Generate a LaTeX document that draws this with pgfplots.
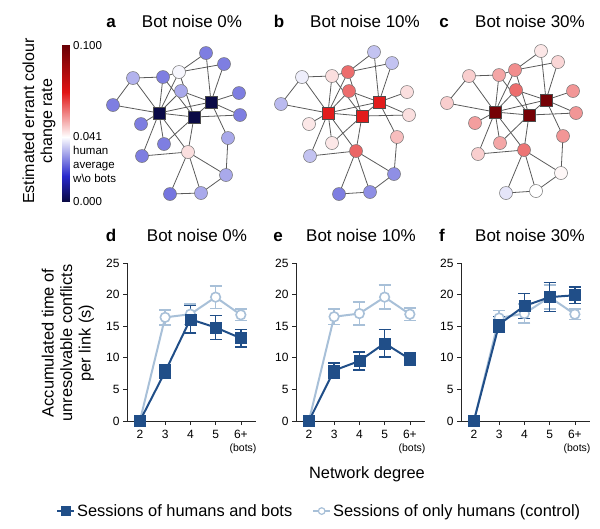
\documentclass[border=0pt]{standalone}
\usepackage{pgfplots}
\usepackage{pgfplotstable}
\pgfplotsset{compat=1.18}
\usepackage{fontspec}
\setmainfont{Liberation Sans}
\definecolor{dk}{RGB}{32,78,136}
\definecolor{lt}{RGB}{168,192,216}
\definecolor{edgec}{RGB}{90,90,90}
\pgfplotsset{colormap={errant}{rgb255(0pt)=(10,10,70); rgb255(16pt)=(40,40,205); rgb255(41pt)=(255,255,255); rgb255(70pt)=(225,20,20); rgb255(100pt)=(105,0,5)}}

% ---------- network node data (pixel coordinates, meta = errant colour change rate)
\pgfplotstableread{
x y m
206 53 0.026
224 64 0.026
179 72 0.040
163 77 0.026
133 78 0.032
181 91 0.031
239 93 0.026
113 105 0.026
240 115 0.026
141 124 0.026
228 138 0.031
164 144 0.026
188 152 0.045
142 156 0.026
226 175 0.031
170 194 0.025
201 193 0.031
}\nodesA
\pgfplotstableread{
x y m
211 102 0.000
159 113 0.000
194 117 0.000
}\botsA
\pgfplotstableread{
x y m
374 52 0.034
392 63 0.034
348 72 0.059
332 76 0.045
302 77 0.039
349 91 0.059
407 92 0.045
281 104 0.033
409 115 0.045
309 124 0.044
397 137 0.049
332 143 0.044
356 151 0.060
310 156 0.034
394 174 0.028
339 194 0.026
370 192 0.028
}\nodesB
\pgfplotstableread{
x y m
379 102 0.069
328 113 0.069
362 116 0.069
}\botsB
\pgfplotstableread{
x y m
541 51 0.044
558 62 0.046
515 70 0.055
499 75 0.052
469 76 0.047
516 90 0.059
573 91 0.054
447 103 0.047
576 113 0.054
475 123 0.053
563 136 0.054
500 143 0.052
524 150 0.058
478 154 0.047
561 173 0.042
506 193 0.038
536 191 0.041
}\nodesC
\pgfplotstableread{
x y m
546 100 0.097
495 112 0.097
529 115 0.097
}\botsC

% ---------- network edges
\pgfplotstableread{
x1 y1 x2 y2
206 53 179 72
206 53 211 102
224 64 179 72
224 64 211 102
179 72 163 77
179 72 159 113
179 72 194 117
163 77 133 78
163 77 159 113
163 77 194 117
133 78 113 105
133 78 159 113
181 91 159 113
181 91 211 102
239 93 211 102
240 115 211 102
240 115 194 117
113 105 159 113
159 113 194 117
194 117 211 102
159 113 211 102
141 124 159 113
228 138 211 102
228 138 226 175
164 144 159 113
164 144 194 117
188 152 159 113
188 152 194 117
188 152 142 156
188 152 226 175
188 152 170 194
188 152 201 193
142 156 159 113
226 175 201 193
170 194 201 193
}\edgesA
\pgfplotstableread{
x1 y1 x2 y2
374 52 348 72
374 52 379 102
392 63 348 72
392 63 379 102
348 72 332 76
348 72 328 113
348 72 362 116
332 76 302 77
332 76 328 113
332 76 362 116
302 77 281 104
302 77 328 113
349 91 328 113
349 91 379 102
407 92 379 102
409 115 379 102
409 115 362 116
281 104 328 113
328 113 362 116
362 116 379 102
328 113 379 102
309 124 328 113
397 137 379 102
397 137 394 174
332 143 328 113
332 143 362 116
356 151 328 113
356 151 362 116
356 151 310 156
356 151 394 174
356 151 339 194
356 151 370 192
310 156 328 113
394 174 370 192
339 194 370 192
}\edgesB
\pgfplotstableread{
x1 y1 x2 y2
541 51 515 70
541 51 546 100
558 62 515 70
558 62 546 100
515 70 499 75
515 70 495 112
515 70 529 115
499 75 469 76
499 75 495 112
499 75 529 115
469 76 447 103
469 76 495 112
516 90 495 112
516 90 546 100
573 91 546 100
576 113 546 100
576 113 529 115
447 103 495 112
495 112 529 115
529 115 546 100
495 112 546 100
475 123 495 112
563 136 546 100
563 136 561 173
500 143 495 112
500 143 529 115
524 150 495 112
524 150 529 115
524 150 478 154
524 150 561 173
524 150 506 193
524 150 536 191
478 154 495 112
561 173 536 191
506 193 536 191
}\edgesC

% ---------- line-plot data
\pgfplotstableread{
x y e
2 0 0
3 7.8 1.1
4 16.1 2.2
5 14.8 1.9
6 13.1 1.4
}\dkD
\pgfplotstableread{
x y e
2 0 0
3 16.4 1.2
4 16.9 1.6
5 19.6 1.8
6 16.8 0.9
}\ltD
\pgfplotstableread{
x y e
2 0 0
3 8.0 1.2
4 9.5 1.4
5 12.3 2.2
6 9.8 1.0
}\dkE
\pgfplotstableread{
x y e
2 0 0
3 16.5 1.2
4 17.0 1.8
5 19.6 1.9
6 16.9 1.0
}\ltE
\pgfplotstableread{
x y e
2 0 0
3 15.3 1.2
4 18.2 2.0
5 19.6 2.3
6 19.9 1.3
}\dkF
\pgfplotstableread{
x y e
2 0 0
3 16.3 1.2
4 17.0 1.5
5 19.6 1.9
6 16.9 0.8
}\ltF

\pgfplotsset{
  edgeplot/.style={quiver={u={\thisrow{x2}-\thisrow{x1}}, v={\thisrow{y2}-\thisrow{y1}}}, draw=edgec, line width=0.8pt, -},
  nodeplot/.style={scatter, only marks, mark=*, mark size=6.5pt, point meta=explicit, scatter/use mapped color={draw=black!55, fill=mapped color}, line width=0.5pt},
  botplot/.style={scatter, only marks, mark=square*, mark size=6pt, point meta=explicit, scatter/use mapped color={draw=black!70, fill=mapped color}, line width=0.6pt},
  panel/.style={scale only axis, width=129pt, height=158pt, xmin=1.49, xmax=6.6, ymin=0, ymax=25,
    axis x line=bottom, axis y line=left, axis line style={-, line width=0.7pt, black!85},
    xtick={2,3,4,5,6}, xticklabels={2,3,4,5,6+}, ytick={0,5,10,15,20,25},
    tick align=outside, major tick length=4pt, tick style={line width=0.7pt, black!85},
    clip=false, tick label style={font=\fontsize{12}{14}\selectfont},
    xticklabel style={yshift=-1.5pt},
    /pgf/number format/assume math mode=true},
  dkplot/.style={dk, line width=2pt, mark=square*, mark size=5.5pt, mark options={solid, fill=dk, line width=0.5pt},
    error bars/.cd, y dir=both, y explicit, error bar style={line width=1.5pt, dk}, error mark options={rotate=90, mark size=6pt, line width=1.5pt, dk}},
  ltplot/.style={lt, line width=2pt, mark=*, mark size=4.8pt, mark options={solid, fill=white, line width=1.6pt},
    error bars/.cd, y dir=both, y explicit, error bar style={line width=1.5pt, lt}, error mark options={rotate=90, mark size=6pt, line width=1.5pt, lt}},
}
\newcommand{\ttl}{\fontsize{17}{20}\selectfont}
\newcommand{\lbl}{\fontsize{16.4}{18.5}\selectfont}
\newcommand{\cbf}{\fontsize{11.5}{13}\selectfont}

\begin{document}
\begin{tikzpicture}
\useasboundingbox (0,0) rectangle (600pt,-528pt);
% ===== canvas axis: networks and texts, pixel coordinates
\begin{axis}[at={(0pt,0pt)}, anchor=north west, x=1pt, y=1pt, y dir=reverse,
  xmin=0, xmax=600, ymin=0, ymax=528, hide axis, clip=false,
  colormap name=errant, point meta min=0, point meta max=0.1]
\addplot[edgeplot] table[x=x1, y=y1] {\edgesA};
\addplot[edgeplot] table[x=x1, y=y1] {\edgesB};
\addplot[edgeplot] table[x=x1, y=y1] {\edgesC};
\addplot[nodeplot] table[x=x, y=y, meta=m] {\nodesA};
\addplot[nodeplot] table[x=x, y=y, meta=m] {\nodesB};
\addplot[nodeplot] table[x=x, y=y, meta=m] {\nodesC};
\addplot[botplot] table[x=x, y=y, meta=m] {\botsA};
\addplot[botplot] table[x=x, y=y, meta=m] {\botsB};
\addplot[botplot] table[x=x, y=y, meta=m] {\botsC};
% titles
\node[anchor=base, font=\ttl\bfseries] at (axis cs:111,27) {a};
\node[anchor=base, font=\ttl] at (axis cs:192,27) {Bot noise 0\%};
\node[anchor=base, font=\ttl\bfseries] at (axis cs:279,27) {b};
\node[anchor=base, font=\ttl] at (axis cs:365,27) {Bot noise 10\%};
\node[anchor=base, font=\ttl\bfseries] at (axis cs:444,27) {c};
\node[anchor=base, font=\ttl] at (axis cs:530,27) {Bot noise 30\%};
\node[anchor=base, font=\ttl\bfseries] at (axis cs:111,241) {d};
\node[anchor=base, font=\ttl] at (axis cs:197,241) {Bot noise 0\%};
\node[anchor=base, font=\ttl\bfseries] at (axis cs:278,241) {e};
\node[anchor=base, font=\ttl] at (axis cs:361,241) {Bot noise 10\%};
\node[anchor=base, font=\ttl\bfseries] at (axis cs:442,241) {f};
\node[anchor=base, font=\ttl] at (axis cs:530,241) {Bot noise 30\%};
% side labels
\node[rotate=90, align=center, font=\fontsize{16}{18}\selectfont] at (axis cs:39,121) {Estimated errant colour\\change rate};
\node[rotate=90, align=center, font=\lbl] at (axis cs:68,343) {Accumulated time of\\unresolvable conflicts\\per link (s)};
\node[anchor=base, font=\lbl] at (axis cs:367,478) {Network degree};
% colorbar labels
\node[anchor=base west, inner sep=0pt, font=\cbf] at (axis cs:73,49) {0.100};
\node[anchor=base west, inner sep=0pt, font=\cbf] at (axis cs:73,140) {0.041};
\node[anchor=base west, inner sep=0pt, font=\cbf] at (axis cs:73,154) {human};
\node[anchor=base west, inner sep=0pt, font=\cbf] at (axis cs:73,168) {average};
\node[anchor=base west, inner sep=0pt, font=\cbf] at (axis cs:73,182) {w\textbackslash o bots};
\node[anchor=base west, inner sep=0pt, font=\cbf] at (axis cs:73,205) {0.000};
\end{axis}

% ===== colour bar
\begin{axis}[at={(62pt,-201pt)}, anchor=south west, scale only axis, width=7pt, height=156pt,
  hide axis, view={0}{90}, xmin=0, xmax=1, ymin=0, ymax=0.1,
  colormap name=errant, point meta min=0, point meta max=0.1]
\addplot3[surf, shader=interp] coordinates {
(0,0,0) (1,0,0)

(0,0.016,0.016) (1,0.016,0.016)

(0,0.041,0.041) (1,0.041,0.041)

(0,0.070,0.070) (1,0.070,0.070)

(0,0.100,0.100) (1,0.100,0.100)
};
\end{axis}

% ===== panel d
\begin{axis}[panel, at={(127pt,-421pt)}, anchor=south west,
  legend style={at={(-0.55,-0.57)}, anchor=west, draw=none, fill=none, inner sep=0pt,
    legend columns=2, font=\lbl, /tikz/every even column/.append style={column sep=18pt}},
  legend cell align=left]
\addlegendimage{dk, line width=1.8pt, mark=square*, mark size=4pt, mark options={solid, fill=dk}}
\addlegendentry{Sessions of humans and bots}
\addlegendimage{lt, line width=1.8pt, mark=*, mark size=3.3pt, mark options={solid, fill=white, line width=1.2pt}}
\addlegendentry{Sessions of only humans (control)}
\addplot[forget plot, ltplot] table[x=x, y=y, y error=e] {\ltD};
\addplot[forget plot, dkplot] table[x=x, y=y, y error=e] {\dkD};
\node[anchor=base east, font=\fontsize{10.5}{12}\selectfont] at (rel axis cs:1,0) [xshift=4pt, yshift=-30pt] {(bots)};
\end{axis}

% ===== panel e
\begin{axis}[panel, at={(296pt,-421pt)}, anchor=south west]
\addplot[ltplot] table[x=x, y=y, y error=e] {\ltE};
\addplot[dkplot] table[x=x, y=y, y error=e] {\dkE};
\node[anchor=base east, font=\fontsize{10.5}{12}\selectfont] at (rel axis cs:1,0) [xshift=4pt, yshift=-30pt] {(bots)};
\end{axis}

% ===== panel f
\begin{axis}[panel, at={(461pt,-421pt)}, anchor=south west]
\addplot[ltplot] table[x=x, y=y, y error=e] {\ltF};
\addplot[dkplot] table[x=x, y=y, y error=e] {\dkF};
\node[anchor=base east, font=\fontsize{10.5}{12}\selectfont] at (rel axis cs:1,0) [xshift=4pt, yshift=-30pt] {(bots)};
\end{axis}
\end{tikzpicture}
\end{document}
